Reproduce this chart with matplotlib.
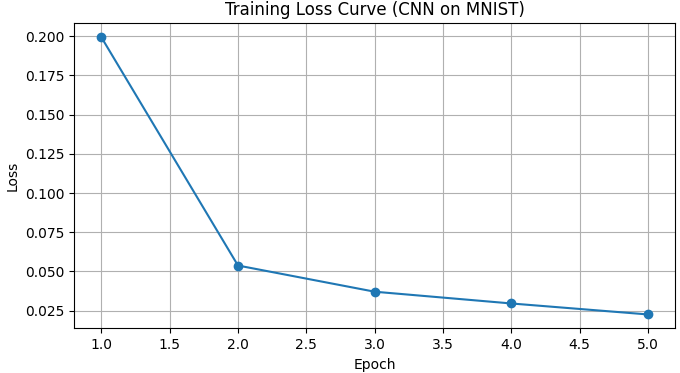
import matplotlib
matplotlib.use("Agg")
import matplotlib.pyplot as plt

epochs = [1, 2, 3, 4, 5]
losses = [0.1994, 0.0538, 0.0371, 0.0296, 0.0226]

fig, ax = plt.subplots(figsize=(6.8, 3.73), dpi=100)
ax.plot(epochs, losses, marker='o')
ax.set_title("Training Loss Curve (CNN on MNIST)")
ax.set_xlabel("Epoch")
ax.set_ylabel("Loss")
ax.grid(True)
fig.subplots_adjust(left=0.1088, right=0.9931, top=0.9375, bottom=0.1198)
fig.savefig("out.png", dpi=100)
